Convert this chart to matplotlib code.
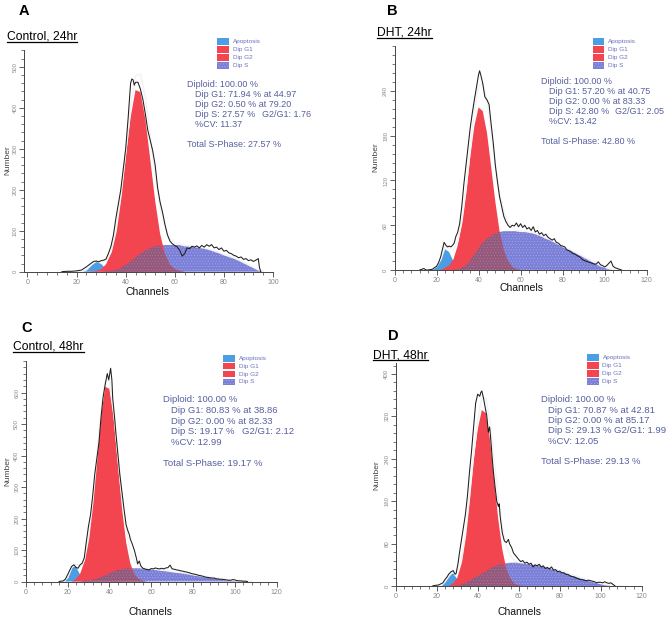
import numpy as np
import matplotlib
matplotlib.use('Agg')
import matplotlib.pyplot as plt
from matplotlib.ticker import MultipleLocator
from matplotlib.patches import Rectangle
from matplotlib.lines import Line2D

plt.rcParams['font.family'] = ['Liberation Sans', 'DejaVu Sans']
plt.rcParams['hatch.linewidth'] = 0.4

W, H = 671, 619

# ---------------- data ----------------
# Panel A : Control, 24hr
A_ch = [20,22,24,26,28,30,32,34,36,38,40,42,44,46,48,50,52,54,56,58,60,62,64,66,68,70,72,74,76,78,80,82,84,86,88,90,92,94,96]
A_apo = [0,0,5,16,24,19,7,1,0,0,0,0,0,0,0,0,0,0,0,0,0,0,0,0,0,0,0,0,0,0,0,0,0,0,0,0,0,0,0]
A_g1 = [0,0,0,1,2,6,18,45,95,176,277,376,443,438,373,274,173,93,43,17,6,2,0,0,0,0,0,0,0,0,0,0,0,0,0,0,0,0,0]
A_s = [0,0,0,0,0,0,1,2,4,9,17,25,35,44,52,58,62,64,65,65,65,65,64,63,62,60,58,55,51,47,42,38,34,29,23,17,11,5,1]
A_hist_ch = [14,16,18,20,22,24,26,27,28,29,30,31,32,33,34,35,36,37,38,39,40,41,42,42.5,43,43.5,
             44,45,46,47,48,49,50,51,52,53,54,55,56,57,58,59,60,61,62,63,64,65,66,67,68,69,70,71,72,73,
             74,75,76,77,78,79,80,81,82,83,84,85,86,87,88,89,90,91,92,93,94,94.5,95]
A_hist = [0,1,1,2,4,12,21,25,26,24,27,28,31,45,62,89,130,165,200,250,300,375,460,470,468,455,
          462,462,445,420,385,345,320,295,260,205,170,145,115,90,75,68,64,60,52,38,44,58,56,62,60,63,58,64,60,66,
          62,66,58,60,54,58,50,52,46,44,40,38,34,36,30,32,27,29,25,28,32,10,0]
A_stats = ["Diploid: 100.00 %", "Dip G1: 71.94 % at 44.97", "Dip G2: 0.50 % at 79.20",
           "Dip S: 27.57 %", "%CV: 11.37"]
A_ratio = "G2/G1: 1.76"
A_total = "Total S-Phase: 27.57 %"
A_yticks = [0, 100, 200, 300, 400, 500]

# Panel B : DHT, 24hr
B_ch = [14,16,18,20,22,24,26,28,30,32,34,36,38,40,42,44,46,48,50,52,54,56,58,60,62,64,66,68,70,72,74,76,78,80,82,84,86,88,90,92,94,96,98,100,102,104,106,108]
B_apo = [0,0,1,5,14,28,24,12,5,1,0,0,0,0,0,0,0,0,0,0,0,0,0,0,0,0,0,0,0,0,0,0,0,0,0,0,0,0,0,0,0,0,0,0,0,0,0,0]
B_g1 = [0,0,0,0,0,3,6,14,32,61,102,150,193,218,213,184,138,91,52,26,12,4,1,0,0,0,0,0,0,0,0,0,0,0,0,0,0,0,0,0,0,0,0,0,0,0,0,0]
B_s = [0,0,0,0,0,0,0,0,1,3,6,13,21,29,37,42,46,49,51,52,52,52,52,52,52,51,50,48,46,43,41,38,35,32,29,27,24,21,18,15,12,9,6,4,2,1,0,0]
B_hist_ch = [12,13,14,15,16,18,20,21,22,23,23.6,24.5,25.2,26,26.8,27.6,28.4,29.2,
             30,31,32,33,34,35,36,37,38,39,40,40.5,
             41,42,43,44,45,46,47,48,49,50,51,52,53,54,55,56,57,58,59,60,61,62,63,64,65,66,67,68,69,70,
             71,72,73,74,75,76,77,78,79,80,81,82,83,84,85,86,87,88,89,90,91,92,93,94,95,96,97,98,99,100,
             101,102,103,104,105,106,107,108]
B_hist = [0,1,2,0,0,1,5,10,18,30,37,33,31,32,31,33,36,45,
          50,62,85,115,140,165,190,210,228,245,262,267,
          262,250,232,228,222,195,170,140,118,98,85,72,65,60,57,60,59,63,58,62,57,60,55,57,53,58,51,53,48,50,
          46,48,44,42,40,42,37,36,33,32,31,27,26,24,22,21,19,18,15,13,12,11,10,9,8,8,11,7,6,4,
          6,9,12,5,3,2,1,0]
B_stats = ["Diploid: 100.00 %", "Dip G1: 57.20 % at 40.75", "Dip G2: 0.00 % at 83.33",
           "Dip S: 42.80 %", "%CV: 13.42"]
B_ratio = "G2/G1: 2.05"
B_total = "Total S-Phase: 42.80 %"
B_yticks = [0, 60, 120, 180, 240]

# Panel C : Control, 48hr
C_ch = [16,18,20,22,24,26,28,30,32,34,36,38,40,42,44,46,48,50,52,54,56,58,60,62,64,66,68,70,72,74,76,78,80,82,84,86,88,90,92,94,96,98,100,102,104,106,108]
C_apo = [0,0,12,45,47,22,5,1,0,0,0,0,0,0,0,0,0,0,0,0,0,0,0,0,0,0,0,0,0,0,0,0,0,0,0,0,0,0,0,0,0,0,0,0,0,0,0]
C_g1 = [0,0,0,0,8,24,61,133,246,390,528,618,612,520,375,235,125,58,22,8,2,0,0,0,0,0,0,0,0,0,0,0,0,0,0,0,0,0,0,0,0,0,0,0,0,0,0]
C_s = [0,0,0,0,0,0,2,4,6,9,14,20,26,32,36,39,41,42,42,42,41,41,40,39,37,36,34,32,30,29,27,25,22,20,18,16,14,12,10,8,6,5,4,2,1,0,0]
C_hist_ch = [16,18,19,20,21,22,23,24,25,26,27,28,29,30,31,32,33,34,35,36,37,38,39,39.7,40.6,41.2,41.6,42.5,
             43,44,45,46,47,47.5,48,49,49.5,50,51,52,53,53.5,54.3,55,
             56,57,58,59,60,61,62,63,64,65,66,67,68,69,70,71,72,73,74,75,76,77,78,79,80,
             81,82,83,84,85,86,87,88,89,90,91,92,93,94,95,96,97,98,99,100,101,102,103,104,105,106]
C_hist = [0,2,8,21,35,48,53,45,42,53,58,75,127,175,212,270,340,390,440,520,585,625,660,640,677,640,582,520,
          480,410,340,285,230,205,180,158,150,135,118,98,72,56,65,50,
          42,40,38,37,41,40,43,41,40,42,40,43,44,52,40,39,37,36,34,33,31,30,28,26,24,
          23,21,19,18,16,14,13,12,11,11,9,8,7,7,6,5,4,4,6,5,3,2,2,1,1,0]
C_stats = ["Diploid: 100.00 %", "Dip G1: 80.83 % at 38.86", "Dip G2: 0.00 % at 82.33",
           "Dip S: 19.17 %", "%CV: 12.99"]
C_ratio = "G2/G1: 2.12"
C_total = "Total S-Phase: 19.17 %"
C_yticks = [0, 100, 200, 300, 400, 500, 600]

# Panel D : DHT, 48hr
D_ch = [20,22,24,26,28,30,32,34,36,38,40,42,44,46,48,50,52,54,56,58,60,62,64,66,68,70,72,74,76,78,80,82,84,86,88,90,92,94,96,98,100,102,104,106,108,110]
D_apo = [0,0,8,19,24,13,4,1,0,0,0,0,0,0,0,0,0,0,0,0,0,0,0,0,0,0,0,0,0,0,0,0,0,0,0,0,0,0,0,0,0,0,0,0,0,0]
D_g1 = [0,0,0,0,5,15,40,90,160,235,295,332,326,277,202,127,69,32,13,4,1,0,0,0,0,0,0,0,0,0,0,0,0,0,0,0,0,0,0,0,0,0,0,0,0,0]
D_s = [0,0,0,0,0,1,3,6,10,15,19,23,28,33,37,40,42,43,44,44,44,44,43,42,41,40,38,36,34,31,29,27,24,21,19,16,14,11,9,7,5,3,2,1,0,0]
D_hist_ch = [18,19,21,23,24,25,26,27,28,29,29.5,30.5,31,32,33,34,35,36,37,38,39,40,41,
             41.5,42,42.8,43.6,44.4,45.2,45.8,46.2,47,47.6,48.5,49.3,50.1,50.5,51,52,53,54,55,55.5,56.6,57.5,
             59,60,61,62,63,64,65,66,67,68,69,70,71,72,73,74,75,76,77,78,79,80,81,82,83,84,85,86,87,88,
             89,90,91,92,93,94,95,96,97,98,99,100,101,102,103,104,105,106,107]
D_hist = [0,1,2,6,12,17,23,27,29,22,24,45,60,85,110,135,170,215,255,300,345,362,358,
          365,368,355,338,322,290,300,285,245,218,186,160,150,155,130,100,85,82,88,80,72,62,
          55,50,46,48,43,45,41,43,36,40,38,41,36,38,33,35,32,36,30,31,27,28,25,25,22,22,19,18,17,15,
          14,12,12,11,10,11,10,9,8,6,7,7,6,8,6,5,6,3,0]
D_stats = ["Diploid: 100.00 %", "Dip G1: 70.87 % at 42.81", "Dip G2: 0.00 % at 85.17",
           "Dip S: 29.13 %", "%CV: 12.05"]
D_ratio = "G2/G1: 1.99"
D_total = "Total S-Phase: 29.13 %"
D_yticks = [0, 80, 160, 240, 320, 400]

panel_letters = ["A", "B", "C", "D"]
panel_titles = ["Control, 24hr", "DHT, 24hr", "Control, 48hr", "DHT, 48hr"]
legend_labels = ["Apoptosis", "Dip G1", "Dip G2", "Dip S"]
x_label = "Channels"
y_label = "Number"

# ---------------- styling ----------------
RED = '#f2454f'
APO = '#4b9de4'
SBLUE = '#7b7fd6'
SHATCH = '#a4a8ee'
OVER = '#93587c'
OHATCH = '#ad7a98'
TXT = '#56609f'
LEGTXT = '#6a70bd'

fig = plt.figure(figsize=(W / 100, H / 100), dpi=100)


def px_axes(left, right, top, bottom):
    return fig.add_axes([left / W, 1 - bottom / H, (right - left) / W, (bottom - top) / H])


def T(x, y, s, **kw):
    return fig.text(x / W, 1 - y / H, s, **kw)


def draw_panel(ax, ch, apo, g1, s, hch, hv, xlim, ylim, yticks, yminor):
    ch = np.asarray(ch, float)
    apo = np.asarray(apo, float)
    g1 = np.asarray(g1, float)
    s = np.asarray(s, float)
    ax.fill_between(ch, 0, apo, facecolor=APO, lw=0, zorder=1)
    ax.fill_between(ch, 0, s, facecolor=SBLUE, edgecolor=SHATCH, hatch='......', lw=0, zorder=2)
    ax.fill_between(ch, 0, g1, facecolor=RED, lw=0, zorder=3)
    ax.fill_between(ch, 0, np.minimum(g1, s), facecolor=OVER, edgecolor=OHATCH, hatch='......', lw=0, zorder=4)
    ax.plot(ch, apo + g1 + s, color='#f4f4f4', lw=1.3, zorder=5)
    ax.plot(hch, hv, color='#1e1e1e', lw=0.75, zorder=6)

    ax.set_xlim(*xlim)
    ax.set_ylim(*ylim)
    ax.patch.set_alpha(0)
    for sp in ('top', 'right'):
        ax.spines[sp].set_visible(False)
    for sp in ('left', 'bottom'):
        ax.spines[sp].set_color('#444444')
        ax.spines[sp].set_linewidth(0.7)
    ax.xaxis.set_major_locator(MultipleLocator(20))
    ax.xaxis.set_minor_locator(MultipleLocator(4))
    ax.set_yticks(yticks)
    ax.yaxis.set_minor_locator(MultipleLocator(yminor))
    ax.tick_params(which='major', direction='out', length=3.6, width=0.6, color='#444444')
    ax.tick_params(which='minor', direction='out', length=2.2, width=0.5, color='#444444')
    ax.tick_params(axis='x', which='major', labelsize=5.0, labelcolor='#8a8a8a', pad=1.6)
    ax.tick_params(axis='y', which='major', labelsize=4.3, labelcolor='#8a8a8a', pad=1.0,
                   labelrotation=90)
    for lab in ax.get_yticklabels():
        lab.set_va('center')


# axes rectangles (pixels)
axA = px_axes(24.3, 273.0, 50.3, 271.7)
axB = px_axes(394.5, 646.7, 46.2, 270.0)
axC = px_axes(25.7, 276.7, 361.0, 581.5)
axD = px_axes(395.7, 641.7, 363.4, 586.0)

draw_panel(axA, A_ch, A_apo, A_g1, A_s, A_hist_ch, A_hist, (-1.3, 100), (0, 540), A_yticks, 20)
draw_panel(axB, B_ch, B_apo, B_g1, B_s, B_hist_ch, B_hist, (0, 120), (0, 300), B_yticks, 12)
draw_panel(axC, C_ch, C_apo, C_g1, C_s, C_hist_ch, C_hist, (0, 120), (0, 700), C_yticks, 20)
draw_panel(axD, D_ch, D_apo, D_g1, D_s, D_hist_ch, D_hist, (0, 120), (0, 420), D_yticks, 16)

# panel letters
for (x, y), L in zip([(24, 15), (392, 15), (27, 331.7), (393.7, 340)], panel_letters):
    T(x, y, L, fontsize=10.5, fontweight='bold', ha='center', va='baseline')

# titles (underlined)
title_texts = []
for (x, y), t in zip([(7, 39.5), (377, 35.5), (13.3, 349.5), (373.3, 358)], panel_titles):
    title_texts.append((T(x, y, t, fontsize=8.7, ha='left', va='baseline'), y))

# axis labels
for (x, y) in [(8, 160), (376, 157), (8, 471), (377, 475)]:
    T(x, y, y_label, fontsize=6, rotation=90, ha='center', va='center', color='#444444')
for (x, y) in [(148, 292), (521, 288), (150.5, 612), (519.5, 612)]:
    T(x, y, x_label, fontsize=7.5, ha='center', va='center', color='#111111')

# legends
leg_pos = [(217.3, 229.3, [41.7, 49.7, 57.5, 65.5], 233),
           (593, 604, [41.7, 49.5, 57.3, 65.3], 607.5),
           (223, 235, [358.3, 366.1, 374, 381.8], 239),
           (587, 598.5, [357.3, 365.3, 373.3, 381.3], 602.5)]
leg_face = [APO, RED, RED, SBLUE]
leg_hatch = [None, None, None, '......']
for x0, x1, rows, tx in leg_pos:
    for yy, lab, fc, hh in zip(rows, legend_labels, leg_face, leg_hatch):
        r = Rectangle((x0 / W, 1 - (yy + 3.3) / H), (x1 - x0) / W, 6.6 / H,
                      transform=fig.transFigure, facecolor=fc, edgecolor=SHATCH if hh else fc,
                      hatch=hh, lw=0)
        fig.patches.append(r)
        T(tx, yy + 1.6, lab, fontsize=4.6, color=LEGTXT, ha='left', va='baseline')

# stats blocks
stats = [(A_stats, A_ratio, A_total, 187, 195, 262, 83.5, 10.0, 143.5),
         (B_stats, B_ratio, B_total, 541, 549, 615, 81.0, 10.0, 141.0),
         (C_stats, C_ratio, C_total, 163.3, 171, 242, 399.3, 10.6, 463.3),
         (D_stats, D_ratio, D_total, 541, 548.3, 614, 399.0, 10.4, 460.7)]
for lines, ratio, total, x0, xi, xr, y0, dy, yt in stats:
    fs = 6.5 if dy < 10.3 else 6.8
    for i, ln in enumerate(lines):
        xx = x0 if i == 0 else xi
        T(xx, y0 + i * dy + 3.2, ln, fontsize=fs, color=TXT, ha='left', va='baseline')
    T(xr, y0 + 3 * dy + 3.2, ratio, fontsize=fs, color=TXT, ha='left', va='baseline')
    T(x0, yt + 3.2, total, fontsize=fs, color=TXT, ha='left', va='baseline')

# underline titles
fig.canvas.draw()
rend = fig.canvas.get_renderer()
for t, y in title_texts:
    bb = t.get_window_extent(rend)
    yy = 1 - (y + 2.0) / H
    fig.lines.append(Line2D([bb.x0 / W, bb.x1 / W], [yy, yy], transform=fig.transFigure,
                            color='black', lw=0.9))

fig.savefig('out.png', dpi=100)
